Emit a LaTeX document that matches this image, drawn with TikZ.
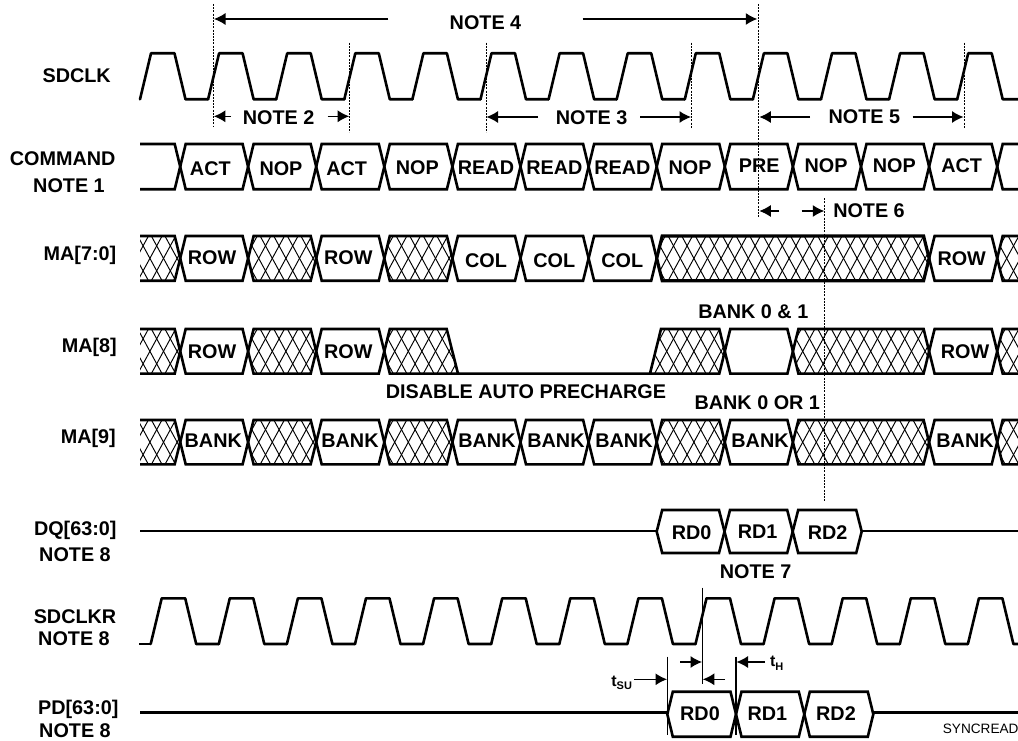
\documentclass[tikz,border=0pt]{standalone}
\usepackage{fontspec}
\setmainfont{Liberation Sans}
\usetikzlibrary{arrows.meta}
\tikzset{
  wave/.style={line width=2.6pt,line join=miter,line cap=butt},
  hatchline/.style={line width=0.95pt},
  lab/.style={font=\fontsize{19.8}{20}\selectfont\bfseries,inner sep=0pt,text height=14pt,text depth=0pt,anchor=center},
  guide/.style={line width=1pt,dash pattern=on 2pt off 1.2pt},
  solidguide/.style={line width=1.2pt},
  dim/.style={line width=1.2pt,-{Latex[length=11.5pt,width=12pt]}}
}
\newcommand{\hatchfill}[1]{% #1 = y of the mid line
  \pgfmathsetmacro{\ymid}{#1}
  \foreach \k in {-40,...,27}{
    \draw[hatchline] ({666.7+13.6*\k-13.6},\ymid-25) -- ({666.7+13.6*\k+13.6},\ymid+25);
    \draw[hatchline] ({666.7+13.6*\k+13.6},\ymid-25) -- ({666.7+13.6*\k-13.6},\ymid+25);
  }}
% closed bus cell: x1 x2 top bottom
\newcommand{\cellplain}[4]{%
  \draw[wave] (#1,{(#3+#4)/2}) -- (#1+5.5,#3) -- (#2-5.5,#3) -- (#2,{(#3+#4)/2}) -- (#2-5.5,#4) -- (#1+5.5,#4) -- cycle;}
\newcommand{\cellhatch}[4]{%
  \begin{scope}
    \clip (#1,{(#3+#4)/2}) -- (#1+5.5,#3) -- (#2-5.5,#3) -- (#2,{(#3+#4)/2}) -- (#2-5.5,#4) -- (#1+5.5,#4) -- cycle;
    \hatchfill{(#3+#4)/2}
  \end{scope}
  \cellplain{#1}{#2}{#3}{#4}}
% open-ended cells at the left (140 to 180) and right (997 to page edge)
\newcommand{\cellleft}[2]{%
  \draw[wave] (140,#1) -- (174.7,#1) -- (180.2,{(#1+#2)/2}) -- (174.7,#2) -- (140,#2);}
\newcommand{\cellright}[2]{%
  \draw[wave] (1018,#1) -- (1002.7,#1) -- (997.2,{(#1+#2)/2}) -- (1002.7,#2) -- (1018,#2);}
\newcommand{\hatchleft}[2]{%
  \begin{scope}
    \clip (140,#1) -- (174.7,#1) -- (180.2,{(#1+#2)/2}) -- (174.7,#2) -- (140,#2) -- cycle;
    \hatchfill{(#1+#2)/2}
  \end{scope}\cellleft{#1}{#2}}
\newcommand{\hatchright}[2]{%
  \begin{scope}
    \clip (1018,#1) -- (1002.7,#1) -- (997.2,{(#1+#2)/2}) -- (1002.7,#2) -- (1018,#2) -- cycle;
    \hatchfill{(#1+#2)/2}
  \end{scope}\cellright{#1}{#2}}
% clock: first top-start x, top y, bottom y
\newcommand{\clockwave}[3]{%
  \foreach \k in {0,...,12}{
    \pgfmathsetmacro{\xx}{#1+68.1*\k}
    \draw[wave,line cap=round,line join=round] (\xx-11,#3) -- (\xx,#2) -- (\xx+23.5,#2) -- (\xx+34.5,#3) -- (\xx+57.1,#3);
  }}
\begin{document}
\begin{tikzpicture}[x=1pt,y=-1pt]
\useasboundingbox (0,0) rectangle (1018,741);
\fill[white] (0,0) rectangle (1018,741);
\begin{scope}
\clip (0,0) rectangle (1018,741);

% ---------- SDCLK
\clockwave{151}{53.3}{99.3}
% ---------- COMMAND
\def\Ta{144}\def\Ba{189.3}
\cellleft{\Ta}{\Ba}
\foreach \a/\b in {180.2/248.1,248.1/316.2,316.2/384.3,384.3/452.4,452.4/520.5,520.5/588.6,588.6/656.7,656.7/724.8,724.8/792.9,792.9/861,861/929.1,929.1/997.2}{\cellplain{\a}{\b}{\Ta}{\Ba}}
\cellright{\Ta}{\Ba}
% ---------- MA[7:0]
\def\Tb{236}\def\Bb{280.7}
\hatchleft{\Tb}{\Bb}
\foreach \a/\b in {180.2/248.1,316.2/384.3,452.4/520.5,520.5/588.6,588.6/656.7,929.1/997.2}{\cellplain{\a}{\b}{\Tb}{\Bb}}
\foreach \a/\b in {248.1/316.2,384.3/452.4}{\cellhatch{\a}{\b}{\Tb}{\Bb}}
\begin{scope}[wave/.append style={line width=3.2pt}]\cellhatch{656.7}{929.1}{\Tb}{\Bb}\end{scope}
\hatchright{\Tb}{\Bb}
% ---------- MA[8]
\def\Tc{329}\def\Bc{373.6}
\hatchleft{\Tc}{\Bc}
\foreach \a/\b in {180.2/248.1,316.2/384.3,724.8/792.9,929.1/997.2}{\cellplain{\a}{\b}{\Tc}{\Bc}}
\foreach \a/\b in {248.1/316.2,792.9/929.1}{\cellhatch{\a}{\b}{\Tc}{\Bc}}
\begin{scope}
  \clip (384.3,351.3) -- (389.8,\Tc) -- (446.7,\Tc) -- (458,\Bc) -- (389.8,\Bc) -- cycle;
  \hatchfill{351.3}
\end{scope}
\draw[wave] (650,\Bc) -- (389.8,\Bc) -- (384.3,351.3) -- (389.8,\Tc) -- (446.7,\Tc) -- (458,\Bc);
\begin{scope}
  \clip (650,\Bc) -- (661,\Tc) -- (719.3,\Tc) -- (724.8,351.3) -- (719.3,\Bc) -- cycle;
  \hatchfill{351.3}
\end{scope}
\draw[wave] (650,\Bc) -- (661,\Tc) -- (719.3,\Tc) -- (724.8,351.3) -- (719.3,\Bc) -- cycle;
\hatchright{\Tc}{\Bc}
% ---------- MA[9]
\def\Td{420}\def\Bd{464.3}
\hatchleft{\Td}{\Bd}
\foreach \a/\b in {180.2/248.1,316.2/384.3,452.4/520.5,520.5/588.6,588.6/656.7,724.8/792.9,929.1/997.2}{\cellplain{\a}{\b}{\Td}{\Bd}}
\foreach \a/\b in {248.1/316.2,384.3/452.4,656.7/724.8,792.9/929.1}{\cellhatch{\a}{\b}{\Td}{\Bd}}
\hatchright{\Td}{\Bd}
% ---------- DQ[63:0]
\draw[wave] (140,531) -- (656.7,531);
\foreach \a/\b in {656.7/724.5,724.5/792.7,792.7/861.7}{\cellplain{\a}{\b}{510}{553}}
\draw[wave] (861.7,531) -- (1018,531);
% ---------- SDCLKR
\draw[wave] (139,644) -- (151,644);
\clockwave{161.7}{598.3}{644}
% ---------- PD[63:0]
\draw[wave] (140,712.7) -- (667.3,712.7);
\foreach \a/\b in {667.3/736,736/804.3,804.3/873.3}{\cellplain{\a}{\b}{691.7}{736.7}}
\draw[wave] (873.3,712.7) -- (1018,712.7);

% ---------- signal names
\node[lab] (nSdclk) at (76.7,76) {SDCLK};
\node[lab] (nCommand) at (62.7,159) {COMMAND};
\node[lab] (nNoteOne) at (69,185.3) {NOTE 1};
\node[lab] (nMaA) at (80,253.3) {MA[7:0]};
\node[lab] (nMaB) at (89.3,345) {MA[8]};
\node[lab] (nMaC) at (88.3,436) {MA[9]};
\node[lab] (nDq) at (75.3,528) {DQ[63:0]};
\node[lab] (nDqN) at (75,554) {NOTE 8};
\node[lab] (nSdclkr) at (75,616.7) {SDCLKR};
\node[lab] (nSdclkrN) at (74,638.7) {NOTE 8};
\node[lab] (nPd) at (78.3,707.3) {PD[63:0]};
\node[lab] (nPdN) at (75,730.7) {NOTE 8};

% ---------- command cell labels
\foreach \n/\t/\x/\y in {c1/ACT/210.3/169,c2/NOP/281/169,c3/ACT/346.7/169,c4/NOP/417.3/167.3,c5/READ/486/167.3,c6/READ/554.3/167.3,c7/READ/622.3/167.3,c8/NOP/690/167.7,c9/PRE/759.3/166,c10/NOP/826/166,c11/NOP/894.3/166,c12/ACT/961.7/166,
  a1/ROW/212/257.7,a2/ROW/348.3/257.7,a3/COL/486/260,a4/COL/554.3/260,a5/COL/622.3/260,a6/ROW/961.7/258,
  b1/ROW/212/351.7,b2/ROW/348.3/351.7,b3/ROW/965/351,
  d1/BANK/213.3/440.7,d2/BANK/350/440.7,d3/BANK/487/440.7,d4/BANK/556/440.7,d5/BANK/624/440.7,d6/BANK/760/440.7,d7/BANK/965/440.7,
  q0/RD0/691.7/532.3,q1/RD1/757.7/531,q2/RD2/827.7/532.7,
  p0/RD0/700/713.3,p1/RD1/767.3/713.3,p2/RD2/836/713.3}{
  \node[lab] (\n) at (\x,\y) {\t};
}
\node[lab] (nDisable) at (526,391) {DISABLE AUTO PRECHARGE};
\node[lab] (nBankAnd) at (753.3,311) {BANK 0 \& 1};
\node[lab] (nBankOr) at (757.3,402) {BANK 0 OR 1};

% ---------- notes
\node[lab] (nN4) at (485.5,23) {NOTE 4};
\node[lab] (nN2) at (278.7,118) {NOTE 2};
\node[lab] (nN3) at (591.7,118) {NOTE 3};
\node[lab] (nN5) at (864.3,116.3) {NOTE 5};
\node[lab] (nN6) at (869,211) {NOTE 6};
\node[lab] (nN7) at (755.7,571) {NOTE 7};

% ---------- guides
\foreach \n/\x/\a/\b in {ga/213.3/4/126.7,gb/349.7/42.7/132.3,gc/486/42.7/132.3,gd/691.7/42.7/127.7,ge/758.7/4/217.3,gf/824.7/198.3/502,gg/964/42.7/127.7}{
  \coordinate (\n1) at (\x,\a);
  \coordinate (\n2) at (\x,\b);
  \draw[guide] (\n1) -- (\n2);
}
\coordinate (hA1) at (702.3,587.7); \coordinate (hA2) at (702.3,684.3);
\coordinate (hB1) at (736,656.7);   \coordinate (hB2) at (736,735);
\coordinate (hC1) at (667.3,656.7); \coordinate (hC2) at (667.3,735);
\draw[solidguide] (hA1) -- (hA2);
\draw[solidguide] (hB1) -- (hB2);
\draw[solidguide] (hC1) -- (hC2);

% ---------- dimension arrows
\foreach \n/\xa/\ya/\xb/\yb in {
  e1/388.3/19/214/19, e2/582.7/19/757.3/19,
  e3/231/116.3/213.8/116.3, e4/327.7/116.3/349.2/116.3,
  e5/538/117/486.5/117, e6/640/117/691/117,
  e7/810/117/759.3/117, e8/912.7/117/963.5/117,
  e9/779.3/211/759.3/211, e10/801.7/211/824.3/211,
  e11/680/662/702/662, e12/725/679.3/702.8/679.3,
  e13/765/662/736.5/662, e14/634/679.3/667/679.3}{
  \coordinate (\n s) at (\xa,\ya);
  \coordinate (\n t) at (\xb,\yb);
  \draw[dim] (\n s) -- (\n t);
}

% ---------- timing labels
\node[inner sep=0pt,font=\bfseries] (nTsu) at (621.7,683) {\fontsize{16}{16}\selectfont t\raisebox{-3.5pt}{\fontsize{11}{11}\selectfont SU}};
\node[inner sep=0pt,font=\bfseries] (nTh) at (776.7,663.3) {\fontsize{16}{16}\selectfont t\raisebox{-3.5pt}{\fontsize{11}{11}\selectfont H}};
\node[inner sep=0pt,anchor=west,font=\fontsize{13.6}{14}\selectfont,text height=10pt,text depth=0pt] (nSync) at (942.7,728.3) {SYNCREAD};
\end{scope}
\end{tikzpicture}
\end{document}
